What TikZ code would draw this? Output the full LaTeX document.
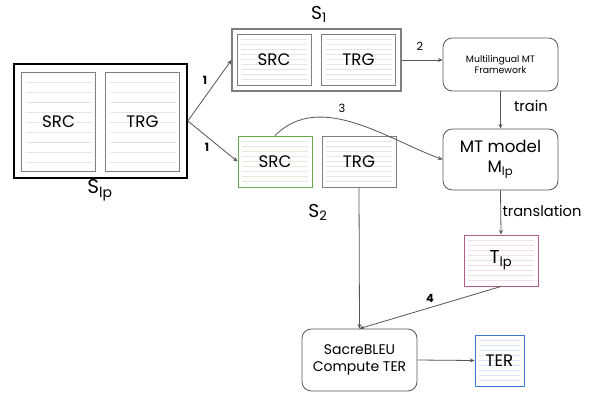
\documentclass[tikz,border=0pt]{standalone}
\usepackage{fontspec}
\setmainfont{Poppins}
\usetikzlibrary{arrows.meta}
\definecolor{pgray}{HTML}{7F7F7F}
\definecolor{lgray}{HTML}{555555}
\definecolor{pgreen}{HTML}{6AA84F}
\definecolor{ppink}{HTML}{B25A8A}
\definecolor{pblue}{HTML}{3C78D8}
\newcommand{\lbl}[1]{\fontsize{#1}{\dimexpr #1pt*6/5\relax}\selectfont}

\begin{document}
\begin{tikzpicture}[x=0.75pt, y=-0.75pt,
    page/.style 2 args = {draw=#1, fill=white, line width=0.7pt, inner sep=0pt,
        path picture={\foreach \k in {1,...,9}
            \draw[#1!20, line width=0.5pt]
                ([xshift=3pt,yshift=-\k*#2]path picture bounding box.north west) --
                ([xshift=-3pt,yshift=-\k*#2]path picture bounding box.north east);}},
    big/.style = {minimum width=55.5pt, minimum height=74.25pt},
    small/.style = {minimum width=55.5pt, minimum height=38.25pt},
    outer/.style = {draw=#1, line width=0.8pt, minimum width=126.75pt, minimum height=46.5pt},
    proc/.style = {draw=lgray, line width=0.6pt, rounded corners=7pt,
                minimum width=86.25pt, align=center},
    conn/.style = {draw=lgray, line width=0.6pt, -{Stealth[length=3.5pt,width=3pt]}},
    num/.style = {font=\lbl{8.5}}
                    ]
        \useasboundingbox (0,0) rectangle (599,397);
        % data sets
        \node[outer=black, line width=1.2pt, minimum width=129.75pt, minimum height=85.5pt] at (100.5,121) (slp) {};
        \node[outer=pgray] at (316.5,60) (s1) {};
        \foreach \x/\v/\t in {58.5/slpsrc/SRC, 142.5/slptrg/TRG}
            \node[page={pgray}{7.5pt}, big, font=\lbl{12.5}] at (\x,121.5) (\v) {\t};
        \foreach \x/\y/\c/\v/\t in {274/59.5/pgray/asrc/SRC, 358.5/59.5/pgray/atrg/TRG,
                                    275/161.5/pgreen/bsrc/SRC, 359/161.5/pgray/btrg/TRG}
            \node[page={\c}{3.75pt}, small, font=\lbl{12.5}] at (\x,\y) (\v) {\t};
        \node[font=\lbl{15}] at (100,190) (slplbl) {S\textsubscript{lp}};
        \node[font=\lbl{14}] at (319,14) (s1lbl) {S\textsubscript{1}};
        \node[font=\lbl{14}] at (318,212) (s2lbl) {S\textsubscript{2}};
        % processing steps
        \node[proc, minimum height=39.75pt, font=\lbl{7}] at (500.5,64.5) (mtf) {Multilingual MT\\Framework};
        \node[proc, minimum height=45.75pt, font=\lbl{12.5}] at (500.5,159.5) (mtm) {MT model\\M\textsubscript{lp}};
        \node[proc, minimum height=46.5pt, font=\lbl{10.5}] at (359.5,360) (sacre) {SacreBLEU\\Compute TER};
        \node[page={ppink}{3.75pt}, small, font=\lbl{14}] at (501,260.5) (tlp) {T\textsubscript{lp}};
        \node[page={pblue}{3.75pt}, small, minimum width=36.75pt, font=\lbl{12.5}] at (499.5,360.5) (ter) {TER};
        % connectors
        \draw[conn] (slp.east) -- (s1.west);
        \draw[conn] (slp.east) -- (bsrc.west);
        \draw[conn] (s1.east) -- (s1.east -| mtf.west);
        \draw[conn] (mtf.south) -- (mtm.north);
        \draw[conn] (bsrc.north) .. controls +(45,-45) and +(-55,-20) .. (mtm.west);
        \draw[conn] (mtm.south) -- (tlp.north);
        \draw[conn] (btrg.south) -- (sacre.north);
        \draw[conn] (tlp.south) -- (sacre.north);
        \draw[conn] (sacre.east) -- (ter.west);
        % labels
        \node[num, font=\lbl{8.5}\bfseries] at (205,80) (n1a) {1};
        \node[num, font=\lbl{8.5}\bfseries] at (207,147) (n1b) {1};
        \node[num] at (420,46) (n2) {2};
        \node[num] at (342,108) (n3) {3};
        \node[num, font=\lbl{8.5}\bfseries] at (430,298) (n4) {4};
        \node[font=\lbl{11}] at (531,106) (trainlbl) {train};
        \node[font=\lbl{11}] at (542,211) (translbl) {translation};
    \end{tikzpicture}
\end{document}
